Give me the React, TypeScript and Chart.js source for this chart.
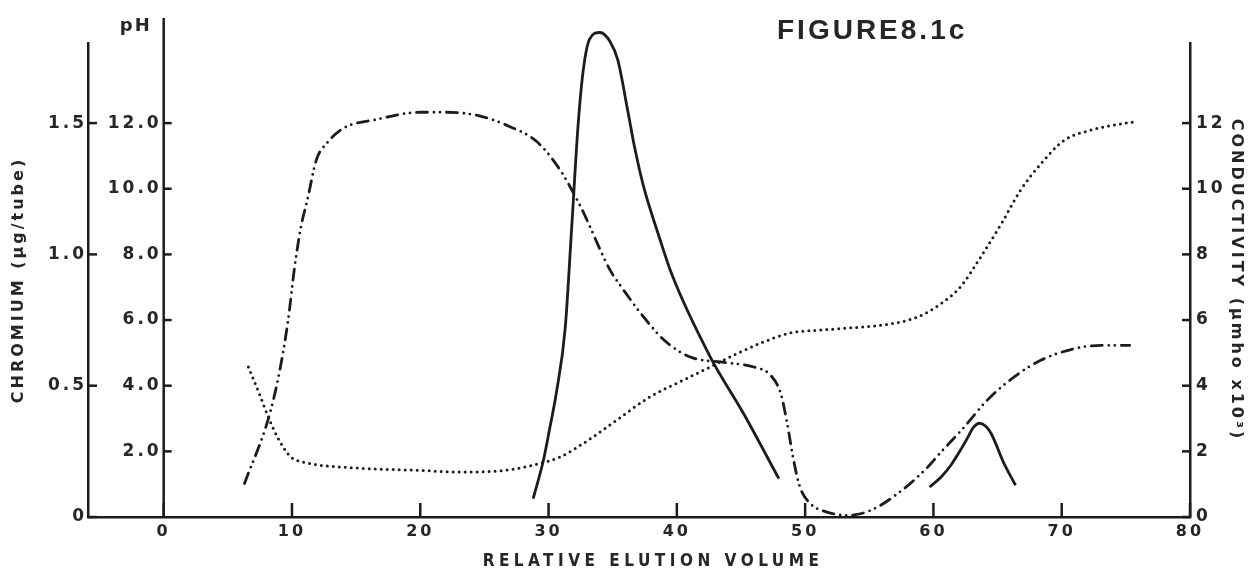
import React, { useEffect, useRef } from "react";
import { Chart, registerables } from "chart.js";

Chart.register(...registerables);

// ---------------- data ----------------
const xTicks = [0, 10, 20, 30, 40, 50, 60, 70, 80];
const chromiumTicks = [0, 0.5, 1.0, 1.5];
const chromiumTickLabels = ["0", "0.5", "1.0", "1.5"];
const phTicks = [2, 4, 6, 8, 10, 12];
const phTickLabels = ["2.0", "4.0", "6.0", "8.0", "10.0", "12.0"];
const conductivityTicks = [0, 2, 4, 6, 8, 10, 12];
const conductivityTickLabels = ["0", "2", "4", "6", "8", "10", "12"];

const chromiumPeak1Volume = [28.8, 29.6, 30.1, 30.6, 31.3, 31.8, 32.3, 32.7, 33.2, 34.0, 34.8, 35.4, 36.2, 36.7, 37.4, 38.7, 39.6, 42.6, 45.2, 47.95];
const chromiumPeak1Values = [0.07, 0.216, 0.34, 0.47, 0.72, 1.1, 1.49, 1.7, 1.82, 1.845, 1.81, 1.74, 1.54, 1.41, 1.26, 1.055, 0.925, 0.61, 0.394, 0.146];

const chromiumPeak2Volume = [59.7, 60.6, 61.4, 62.1, 62.7, 63.1, 63.6, 64.1, 64.5, 65.5, 66.4];
const chromiumPeak2Values = [0.114, 0.152, 0.2, 0.254, 0.305, 0.34, 0.357, 0.345, 0.318, 0.204, 0.121];

const phVolume = [6.3, 8.2, 9.0, 9.7, 10.2, 10.7, 11.2, 11.9, 12.7, 14.0, 16.6, 20.0, 22.0, 24.6, 27.0, 29.1, 30.9, 32.5, 34.8, 35.6, 37.4, 39.0, 41.0, 43.9, 46.0, 47.3, 48.1, 48.6, 49.1, 49.6, 50.4, 51.7, 53.3, 55.1, 57.2, 59.3, 60.6, 62.4, 64.2, 66.3, 68.4, 71.0, 73.1, 75.3];
const phValues = [1.02, 3.05, 4.37, 6.0, 7.6, 8.84, 9.66, 10.88, 11.38, 11.84, 12.11, 12.33, 12.33, 12.22, 11.89, 11.43, 10.57, 9.45, 7.52, 7.05, 6.1, 5.39, 4.88, 4.7, 4.57, 4.32, 3.76, 2.85, 1.73, 0.91, 0.41, 0.15, 0.05, 0.2, 0.71, 1.42, 1.98, 2.74, 3.56, 4.27, 4.78, 5.13, 5.23, 5.23];

const conductivityVolume = [6.6, 7.45, 8.2, 9.0, 9.9, 10.8, 14.7, 20.0, 23.1, 27.0, 29.1, 30.9, 32.7, 35.3, 37.9, 40.5, 42.6, 44.7, 46.8, 48.9, 51.0, 53.5, 56.9, 58.8, 60.6, 62.1, 63.7, 65.3, 66.8, 68.4, 70.2, 72.3, 74.1, 75.7];
const conductivityValues = [4.57, 3.76, 3.0, 2.34, 1.83, 1.68, 1.5, 1.42, 1.37, 1.44, 1.61, 1.83, 2.24, 2.95, 3.66, 4.17, 4.57, 4.98, 5.34, 5.61, 5.69, 5.76, 5.9, 6.1, 6.5, 7.01, 7.93, 8.94, 9.96, 10.77, 11.48, 11.79, 11.94, 12.04];

// axis ranges
const X_MIN = -5.9;
const X_MAX = 80;
const PH_MAX = 14.44;
const CHROMIUM_MAX = 1.805;

// ---------------- styles ----------------
const INK = "#1c1c1c";
const TEXT = "#262626";
const FONT = "'DejaVu Sans', 'Liberation Sans', Arial, sans-serif";
const CAPTION_FONT = "'Liberation Sans', Arial, sans-serif";
const NARROW_FONT = "'DejaVu Sans Condensed', 'Liberation Sans Narrow', 'DejaVu Sans', sans-serif";

const toPoints = (xs: number[], ys: number[]) => xs.map((x, i) => ({ x, y: ys[i] }));

const overlayPlugin = {
  id: "overlay",
  beforeDraw(chart: any) {
    chart.ctx.letterSpacing = "3px";
  },
  afterDraw(chart: any) {
    const { ctx, chartArea } = chart;
    const sx = chart.scales.x;
    const sCr = chart.scales.yCr;
    const sPH = chart.scales.yPH;
    const sC = chart.scales.yCond;
    ctx.save();
    ctx.strokeStyle = INK;
    ctx.lineWidth = 2.5;
    ctx.lineCap = "butt";
    const seg = (x1: number, y1: number, x2: number, y2: number) => {
      ctx.beginPath();
      ctx.moveTo(x1, y1);
      ctx.lineTo(x2, y2);
      ctx.stroke();
    };
    // tick marks pointing into the plot
    xTicks.forEach((v) => {
      const p = sx.getPixelForValue(v);
      seg(p, chartArea.bottom, p, chartArea.bottom - 14);
    });
    chromiumTicks.forEach((v) => {
      const p = sCr.getPixelForValue(v);
      seg(chartArea.left, p, chartArea.left + 9, p);
    });
    conductivityTicks.forEach((v) => {
      const p = sC.getPixelForValue(v);
      seg(chartArea.right - 8, p, chartArea.right, p);
    });
    // pH axis standing at x = 0
    const px0 = sx.getPixelForValue(0);
    seg(px0, chartArea.bottom, px0, chartArea.top - 25);
    phTicks.forEach((v) => {
      const p = sPH.getPixelForValue(v);
      seg(px0, p, px0 + 8, p);
    });

    ctx.fillStyle = TEXT;
    ctx.textBaseline = "middle";
    ctx.textAlign = "right";
    ctx.letterSpacing = "3px";
    ctx.font = `bold 17px ${FONT}`;
    phTicks.forEach((v, i) => {
      ctx.fillText(phTickLabels[i], px0 - 2, sPH.getPixelForValue(v));
    });
    ctx.letterSpacing = "2px";
    ctx.font = `bold 18px ${FONT}`;
    ctx.fillText("pH", px0 - 12, 26);

    // figure caption
    ctx.textAlign = "left";
    ctx.letterSpacing = "3px";
    ctx.font = `bold 28px ${CAPTION_FONT}`;
    ctx.fillText("FIGURE8.1c", 777, 31);

    // x axis title
    ctx.textAlign = "center";
    ctx.letterSpacing = "4.5px";
    ctx.font = `bold 17px ${NARROW_FONT}`;
    ctx.fillText("RELATIVE ELUTION VOLUME", (chartArea.left + chartArea.right) / 2 + 14, 562);
    ctx.restore();
  },
};

const tickFont = { family: FONT, size: 17, weight: "bold" as const };
const titleFont = { family: FONT, size: 16, weight: "bold" as const };

export default function App() {
  const ref = useRef<HTMLCanvasElement>(null);
  useEffect(() => {
    const lineBase = {
      borderColor: INK,
      pointRadius: 0,
      fill: false,
      cubicInterpolationMode: "monotone" as const,
    };
    const chart = new Chart(ref.current as HTMLCanvasElement, {
      type: "line",
      data: {
        datasets: [
          {
            ...lineBase,
            label: "Chromium",
            data: toPoints(chromiumPeak1Volume, chromiumPeak1Values),
            yAxisID: "yCr",
            borderWidth: 2.8,
            clip: false as any,
          },
          {
            ...lineBase,
            label: "Chromium (second peak)",
            data: toPoints(chromiumPeak2Volume, chromiumPeak2Values),
            yAxisID: "yCr",
            borderWidth: 2.8,
            clip: false as any,
          },
          {
            ...lineBase,
            label: "pH",
            data: toPoints(phVolume, phValues),
            yAxisID: "yPH",
            borderWidth: 2.8,
            borderDash: [11, 6.5, 0, 6, 0, 6.5],
            borderCapStyle: "round",
          },
          {
            ...lineBase,
            label: "Conductivity",
            data: toPoints(conductivityVolume, conductivityValues),
            yAxisID: "yCond",
            borderWidth: 3,
            borderDash: [0, 6],
            borderCapStyle: "round",
          },
        ],
      },
      options: {
        responsive: false,
        devicePixelRatio: 1,
        animation: false,
        events: [],
        layout: { padding: { top: 43, left: 0, right: 0, bottom: 0 } },
        plugins: {
          legend: { display: false },
          tooltip: { enabled: false },
        },
        scales: {
          x: {
            type: "linear",
            position: "bottom",
            min: X_MIN,
            max: X_MAX,
            afterBuildTicks: (s: any) => {
              s.ticks = xTicks.map((v) => ({ value: v }));
            },
            afterFit: (s: any) => {
              s.height = 57;
            },
            grid: { display: false, drawTicks: false },
            border: { display: true, color: INK, width: 2.5 },
            ticks: {
              padding: 5,
              color: TEXT,
              font: { family: FONT, size: 16, weight: "bold" },
              maxRotation: 0,
              autoSkip: false,
              callback: (v: any) => String(v),
            },
          },
          yCr: {
            type: "linear",
            position: "left",
            min: 0,
            max: CHROMIUM_MAX,
            afterBuildTicks: (s: any) => {
              s.ticks = chromiumTicks.map((v) => ({ value: v }));
            },
            afterFit: (s: any) => {
              s.width = 88;
            },
            grid: { display: false, drawTicks: false },
            border: { display: true, color: INK, width: 2.5 },
            ticks: {
              padding: 1,
              color: TEXT,
              font: tickFont,
              callback: (v: any) => {
                const i = chromiumTicks.indexOf(Number(v));
                return i >= 0 ? chromiumTickLabels[i] : "";
              },
            },
            title: {
              display: true,
              text: "CHROMIUM (µg/tube)",
              color: TEXT,
              font: titleFont,
              padding: { top: 9, bottom: 0 },
            },
          },
          yPH: {
            type: "linear",
            position: "left",
            display: false,
            min: 0,
            max: PH_MAX,
          },
          yCond: {
            type: "linear",
            position: "right",
            min: 0,
            max: PH_MAX,
            afterBuildTicks: (s: any) => {
              s.ticks = conductivityTicks.map((v) => ({ value: v }));
            },
            afterFit: (s: any) => {
              s.width = 69;
            },
            grid: { display: false, drawTicks: false },
            border: { display: true, color: INK, width: 2.5 },
            ticks: {
              padding: 6,
              color: TEXT,
              font: tickFont,
              callback: (v: any) => {
                const i = conductivityTicks.indexOf(Number(v));
                return i >= 0 ? conductivityTickLabels[i] : "";
              },
            },
            title: {
              display: true,
              text: "CONDUCTIVITY (µmho x10³)",
              color: TEXT,
              font: titleFont,
              padding: { top: 13, bottom: 0 },
            },
          },
        },
      } as any,
      plugins: [overlayPlugin],
    });
    return () => chart.destroy();
  }, []);

  return (
    <div
      style={{
        position: "fixed",
        left: 0,
        top: 0,
        width: 1259,
        height: 574,
        background: "#ffffff",
      }}
    >
      <canvas ref={ref} width={1259} height={574} style={{ display: "block", width: 1259, height: 574 }} />
    </div>
  );
}
